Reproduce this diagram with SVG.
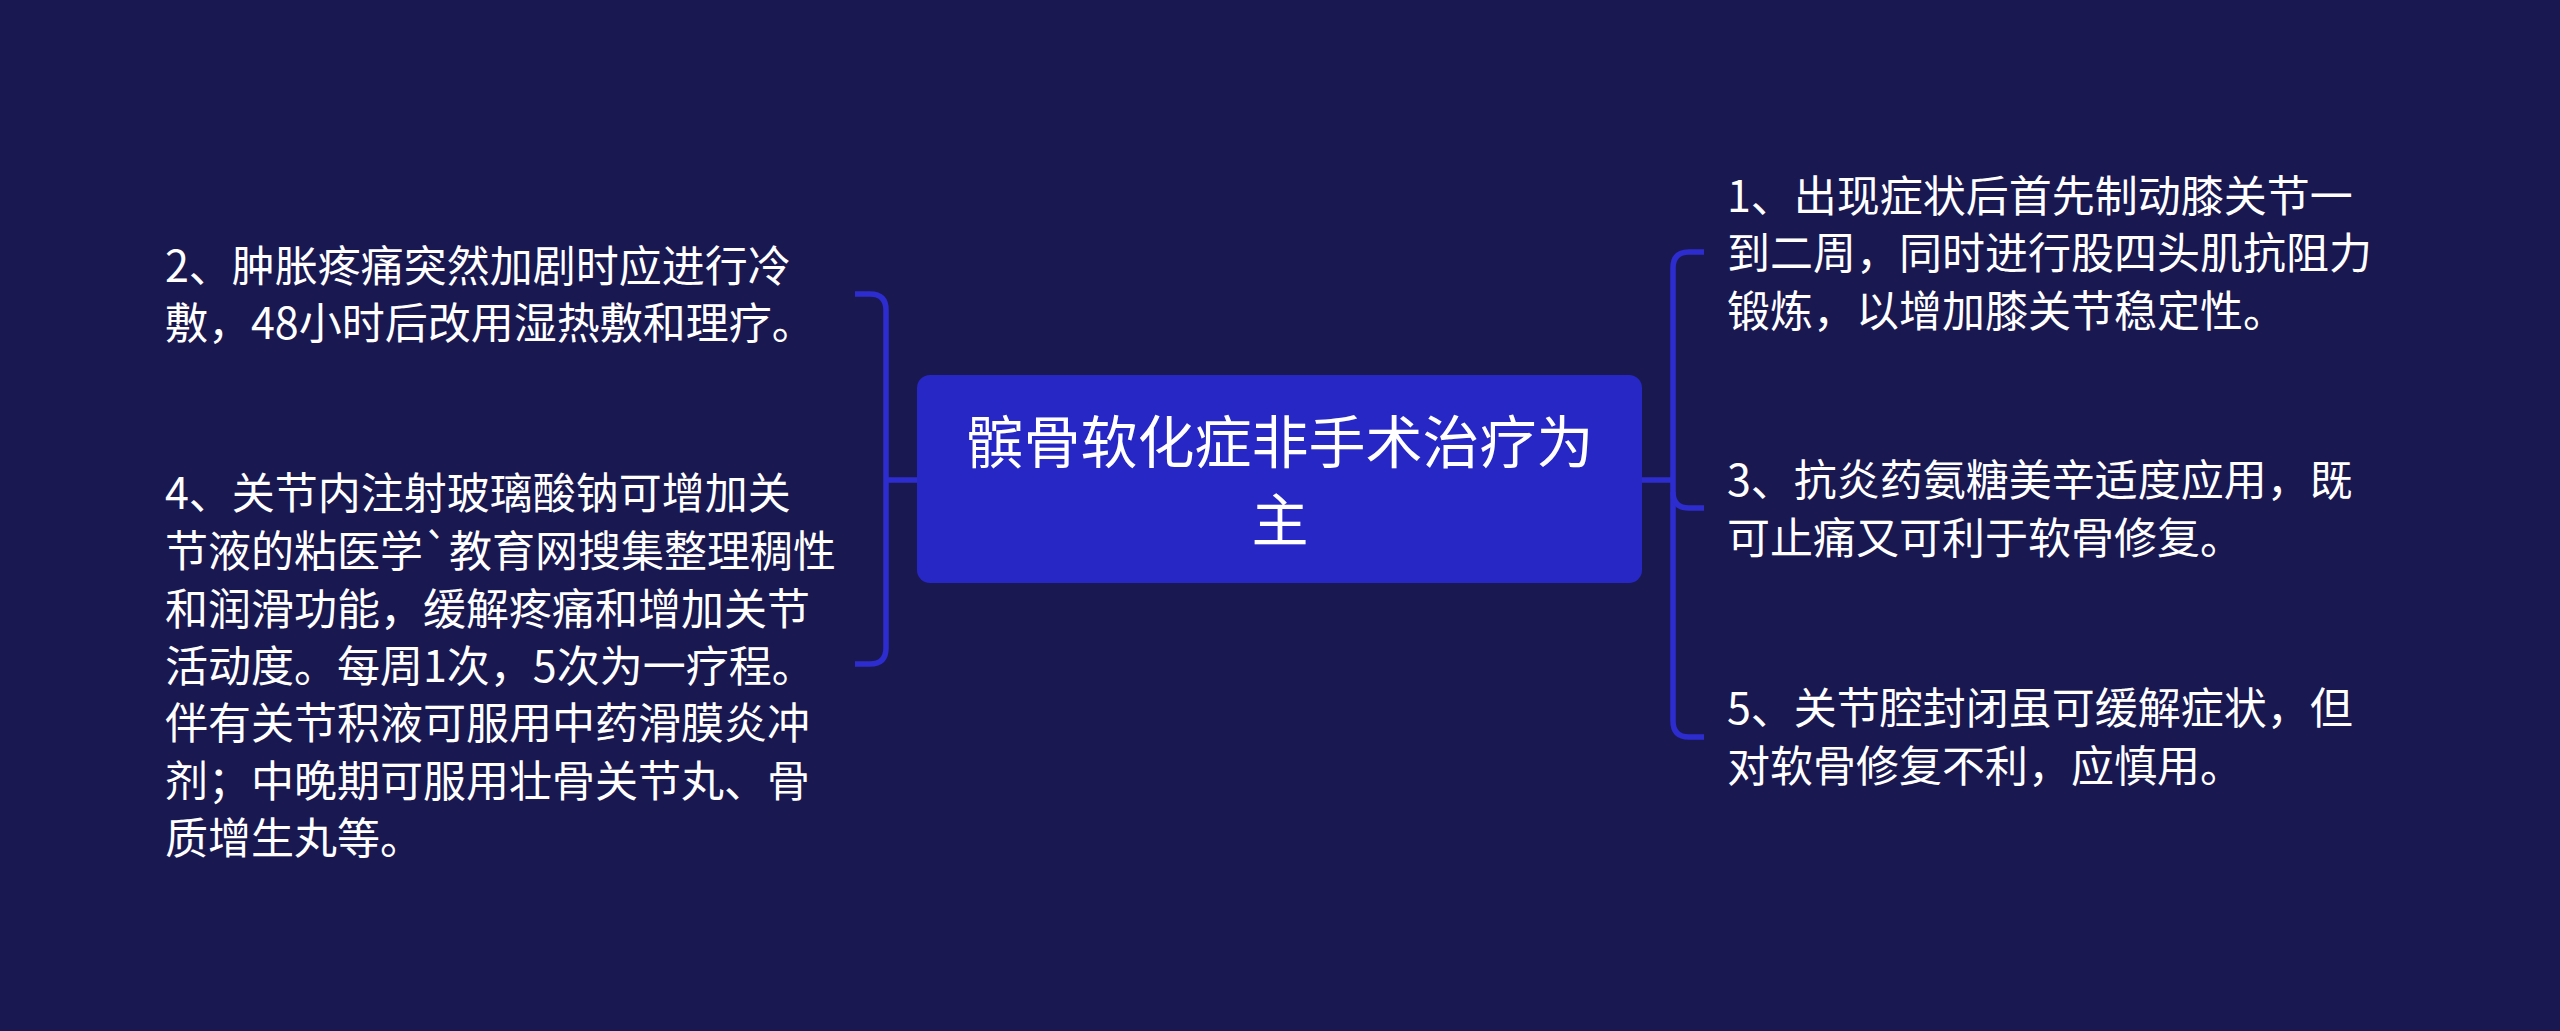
<svg xmlns="http://www.w3.org/2000/svg" width="2560" height="1031" viewBox="0 0 2560 1031">
<style>
.bg{fill:#1a1851}
.root{fill:#2727c6}
.rt{font-family:"Noto Sans CJK SC","Noto Sans",sans-serif;font-size:57px;fill:#ffffff;text-anchor:middle}
.t{font-family:"Noto Sans CJK SC","Noto Sans",sans-serif;font-size:43px;fill:#ffffff}
.c{fill:none;stroke:#2c2ccf;stroke-width:5.5;stroke-linecap:butt}
</style>
<rect class="bg" x="0" y="0" width="2560" height="1031"/>
<g id="connectors">
<path class="c" d="M855,294 H870 Q886,294 886,310 V648 Q886,664 870,664 H855"/>
<path class="c" d="M886,480 H918"/>
<path class="c" d="M1704,252 H1689 Q1673,252 1673,268 V721 Q1673,737 1689,737 H1704"/>
<path class="c" d="M1673,492 Q1673,508 1689,508 H1704"/>
<path class="c" d="M1641,480 H1673"/>
</g>
<g id="root">
<rect class="root" x="917" y="375" width="725" height="208" rx="13"/>
<text class="rt"><tspan x="1280" y="463">髌骨软化症非手术治疗为</tspan><tspan x="1280" y="541">主</tspan></text>
</g>
<g id="node2">
<text class="t"><tspan x="165" y="282">2、肿胀疼痛突然加剧时应进行冷</tspan><tspan x="165" y="339">敷，48小时后改用湿热敷和理疗。</tspan></text>
</g>
<g id="node4">
<text class="t"><tspan x="165" y="509">4、关节内注射玻璃酸钠可增加关</tspan><tspan x="165" y="567">节液的粘医学`教育网搜集整理稠性</tspan><tspan x="165" y="625">和润滑功能，缓解疼痛和增加关节</tspan><tspan x="165" y="682">活动度。每周1次，5次为一疗程。</tspan><tspan x="165" y="739">伴有关节积液可服用中药滑膜炎冲</tspan><tspan x="165" y="797">剂；中晚期可服用壮骨关节丸、骨</tspan><tspan x="165" y="854">质增生丸等。</tspan></text>
</g>
<g id="node1">
<text class="t"><tspan x="1727" y="212">1、出现症状后首先制动膝关节一</tspan><tspan x="1727" y="269">到二周，同时进行股四头肌抗阻力</tspan><tspan x="1727" y="327">锻炼，以增加膝关节稳定性。</tspan></text>
</g>
<g id="node3">
<text class="t"><tspan x="1727" y="496">3、抗炎药氨糖美辛适度应用，既</tspan><tspan x="1727" y="554">可止痛又可利于软骨修复。</tspan></text>
</g>
<g id="node5">
<text class="t"><tspan x="1727" y="724">5、关节腔封闭虽可缓解症状，但</tspan><tspan x="1727" y="782">对软骨修复不利，应慎用。</tspan></text>
</g>
</svg>
